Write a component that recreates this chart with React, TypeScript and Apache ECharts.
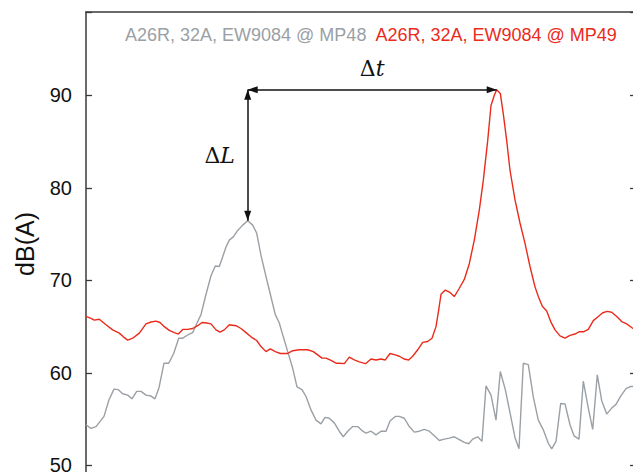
import React, { useEffect, useRef } from "react";
import * as echarts from "echarts";

// time (s) , level dB(A)
const mp48: [number, number][] = [
  [0.0, 54.4], [0.5, 54.0], [1.0, 54.2], [1.8, 55.3], [2.3, 57.1], [2.8, 58.25],
  [3.2, 58.2], [3.67, 57.75], [4.17, 57.6], [4.6, 57.2], [5.07, 58.0], [5.5, 58.0],
  [6.0, 57.6], [6.5, 57.5], [6.9, 57.2], [7.3, 58.4], [7.8, 61.05], [8.27, 61.05],
  [8.77, 62.1], [9.27, 63.75], [9.67, 63.75], [10.17, 64.1], [10.67, 64.35], [11.17, 65.55],
  [11.5, 66.3], [11.93, 68.2], [12.5, 70.5], [12.93, 71.55], [13.33, 71.5], [13.67, 72.55],
  [14.0, 73.6], [14.33, 74.35], [14.73, 74.7], [15.17, 75.4], [15.67, 75.97], [16.17, 76.45],
  [16.67, 75.97], [17.07, 75.1], [17.5, 72.7], [18.0, 70.4], [18.5, 68.2], [18.93, 66.3],
  [19.33, 65.4], [19.73, 63.9], [20.17, 62.3], [20.67, 60.5], [21.1, 58.5], [21.6, 58.2],
  [22.0, 57.45], [22.5, 56.0], [23.0, 54.9], [23.5, 54.5], [23.9, 55.2], [24.33, 55.1],
  [24.83, 54.6], [25.33, 53.7], [25.73, 53.1], [26.17, 53.7], [26.67, 54.2], [27.17, 54.2],
  [27.67, 53.7], [28.0, 53.5], [28.5, 53.7], [29.0, 53.3], [29.5, 53.7], [30.0, 53.7],
  [30.4, 54.8], [30.93, 55.3], [31.33, 55.3], [31.83, 55.1], [32.33, 54.2], [32.83, 53.6],
  [33.33, 53.7], [33.83, 53.9], [34.33, 53.7], [34.83, 53.2], [35.33, 52.7], [35.83, 52.85],
  [36.33, 52.95], [36.83, 53.1], [37.33, 52.8], [37.83, 52.5], [38.27, 52.35], [38.67, 52.85],
  [39.17, 53.1], [39.6, 52.6], [40.0, 58.6], [40.5, 57.6], [41.0, 54.9], [41.43, 60.15],
  [41.93, 58.2], [42.4, 55.7], [42.9, 53.0], [43.3, 51.8], [43.73, 61.05], [44.23, 60.9],
  [44.73, 57.4], [45.23, 54.9], [45.73, 53.85], [46.23, 52.4], [46.57, 51.8], [47.0, 52.6],
  [47.47, 56.7], [47.9, 56.65], [48.4, 54.4], [48.8, 53.2], [49.3, 52.85], [49.73, 59.1],
  [50.23, 56.2], [50.67, 53.9], [51.13, 59.8], [51.57, 57.0], [52.07, 55.55], [52.57, 56.2],
  [53.0, 56.6], [53.47, 57.5], [54.0, 58.3], [54.47, 58.55], [55.0, 58.5],
];

const mp49: [number, number][] = [
  [0.0, 66.1], [0.5, 65.9], [0.83, 65.7], [1.33, 65.8], [2.0, 65.2], [2.67, 64.65],
  [3.33, 64.3], [3.73, 63.9], [4.17, 63.55], [4.67, 63.75], [5.33, 64.3], [6.0, 65.3],
  [6.5, 65.5], [7.0, 65.6], [7.4, 65.45], [7.83, 65.0], [8.33, 64.6], [8.83, 64.35],
  [9.23, 64.2], [9.67, 64.7], [10.17, 64.7], [10.67, 64.8], [11.17, 65.1], [11.6, 65.45],
  [12.07, 65.4], [12.5, 65.3], [13.0, 64.65], [13.4, 64.4], [13.83, 64.65], [14.33, 65.2],
  [15.0, 65.1], [15.5, 64.8], [16.0, 64.35], [16.5, 63.9], [17.07, 63.5], [17.5, 62.85],
  [18.0, 62.3], [18.43, 62.6], [18.93, 62.3], [19.43, 62.1], [20.17, 62.1], [20.67, 62.4],
  [21.33, 62.5], [22.17, 62.5], [22.73, 62.3], [23.17, 61.95], [23.6, 61.6], [24.0, 61.6],
  [24.5, 61.35], [25.0, 61.05], [25.33, 61.05], [25.83, 61.0], [26.33, 61.7], [26.83, 61.4],
  [27.33, 61.2], [27.95, 61.0], [28.5, 61.5], [29.0, 61.4], [29.5, 61.5], [29.93, 61.4],
  [30.4, 62.1], [30.93, 61.95], [31.33, 61.8], [31.83, 61.5], [32.27, 61.4], [32.67, 61.8],
  [33.17, 62.5], [33.67, 63.3], [34.17, 63.4], [34.6, 63.75], [35.0, 65.0], [35.27, 66.8],
  [35.5, 68.5], [35.93, 68.95], [36.4, 68.7], [36.83, 68.25], [37.33, 69.15], [37.83, 70.1],
  [38.33, 71.8], [38.83, 74.35], [39.33, 77.6], [39.73, 80.8], [40.17, 85.1], [40.5, 88.9],
  [40.83, 90.0], [41.07, 90.6], [41.43, 90.2], [41.73, 88.0], [42.07, 85.1], [42.4, 81.9],
  [42.9, 78.7], [43.4, 76.2], [43.9, 74.0], [44.4, 71.5], [44.9, 69.3], [45.23, 68.25],
  [45.63, 67.2], [46.07, 66.7], [46.47, 65.55], [46.9, 64.65], [47.4, 64.0], [47.9, 63.75],
  [48.4, 64.05], [48.9, 64.2], [49.3, 64.45], [49.8, 64.45], [50.23, 64.7], [50.73, 65.65],
  [51.23, 66.1], [51.67, 66.5], [52.13, 66.65], [52.57, 66.55], [53.07, 66.1], [53.57, 65.55],
  [54.07, 65.3], [54.7, 64.8], [55.0, 64.6],
];

const seriesNames = ["A26R, 32A, EW9084 @ MP48", "A26R, 32A, EW9084 @ MP49"];
const yRange = { min: 40, max: 99, step: 10 };
const timeRange = { min: 0, max: 55 };
const yTitle = "dB(A)";

const GRAY = "#9aa0a5";
const RED = "#ea2b1c";
const AXIS = "#3a3a3a";
const SANS = "'Liberation Sans', Arial, Helvetica, sans-serif";
const SERIF = "'DejaVu Serif', 'Liberation Serif', serif";

const peak = (d: [number, number][]) => d.reduce((a, b) => (b[1] > a[1] ? b : a));

export default function App() {
  const ref = useRef<HTMLDivElement>(null);
  useEffect(() => {
    if (!ref.current) return;
    const chart = echarts.init(ref.current, undefined, { renderer: "svg" });
    const [tG, vG] = peak(mp48);
    const [tR, vR] = peak(mp49);
    const yAxisBase = {
      type: "value" as const,
      min: yRange.min,
      max: yRange.max,
      interval: yRange.step,
      splitLine: { show: false },
      axisLine: { show: true, lineStyle: { color: AXIS, width: 1.5 } },
      axisTick: { show: true, inside: true, length: 6, lineStyle: { color: AXIS, width: 1.3 } },
    };
    chart.setOption({
      animation: false,
      grid: { left: 86, top: 12, width: 550, height: 546, outerBoundsMode: "none", containLabel: false },
      legend: {
        left: 115,
        top: 21,
        icon: "none",
        itemWidth: 0,
        itemHeight: 0,
        itemGap: 4,
        selectedMode: false,
        data: [
          { name: seriesNames[0], textStyle: { color: GRAY } },
          { name: seriesNames[1], textStyle: { color: RED } },
        ],
        textStyle: { fontSize: 18, fontFamily: SANS },
      },
      xAxis: {
        type: "value",
        position: "top",
        min: timeRange.min,
        max: timeRange.max,
        axisLine: { show: true, lineStyle: { color: AXIS, width: 1.5 } },
        axisTick: { show: false },
        axisLabel: { show: false },
        splitLine: { show: false },
      },
      yAxis: [
        {
          ...yAxisBase,
          position: "left",
          axisLabel: {
            show: true,
            margin: 14,
            fontSize: 20,
            color: "#111",
            fontFamily: SANS,
            formatter: (v: number) => (v % yRange.step === 0 ? String(v) : ""),
          },
        },
        { ...yAxisBase, position: "right", axisLabel: { show: false } },
      ],
      graphic: [
        {
          type: "text",
          x: 25,
          y: 244,
          rotation: Math.PI / 2,
          style: {
            text: yTitle,
            fontSize: 25,
            fontFamily: SANS,
            fill: "#111",
            align: "center",
            verticalAlign: "middle",
          },
        },
      ],
      series: [
        {
          name: seriesNames[0],
          type: "line",
          data: mp48,
          showSymbol: false,
          symbol: "none",
          lineStyle: { color: GRAY, width: 1.4 },
          itemStyle: { color: GRAY },
          z: 2,
          markLine: {
            silent: true,
            symbol: ["triangle", "triangle"],
            symbolSize: [7, 10],
            symbolOffset: [[0, 5], [0, 5]],
            label: { show: false },
            emphasis: { disabled: true },
            lineStyle: { color: "#111", width: 1.5, type: "solid" },
            data: [
              [{ coord: [tG, vG] }, { coord: [tG, vR] }],
              [{ coord: [tG, vR] }, { coord: [tR, vR] }],
            ],
          },
          markPoint: {
            silent: true,
            symbol: "circle",
            symbolSize: 0,
            data: [
              {
                coord: [tG, (vG + vR) / 2],
                label: {
                  show: true,
                  position: "inside",
                  offset: [-28, 0],
                  formatter: "{a|Δ}{b|L}",
                  rich: {
                    a: { fontSize: 22, fontFamily: SERIF, color: "#111" },
                    b: { fontSize: 22, fontFamily: SERIF, fontStyle: "italic", color: "#111" },
                  },
                },
              },
              {
                coord: [(tG + tR) / 2, vR],
                label: {
                  show: true,
                  position: "inside",
                  offset: [0, -21],
                  formatter: "{a|Δ}{b|t}",
                  rich: {
                    a: { fontSize: 22, fontFamily: SERIF, color: "#111" },
                    b: { fontSize: 22, fontFamily: SERIF, fontStyle: "italic", color: "#111" },
                  },
                },
              },
            ],
          },
        },
        {
          name: seriesNames[1],
          type: "line",
          data: mp49,
          showSymbol: false,
          symbol: "none",
          lineStyle: { color: RED, width: 1.4 },
          itemStyle: { color: RED },
          z: 3,
        },
      ],
    });
    return () => chart.dispose();
  }, []);
  return (
    <div
      ref={ref}
      style={{ position: "fixed", left: 0, top: 0, width: 633, height: 472, background: "#fff" }}
    />
  );
}
